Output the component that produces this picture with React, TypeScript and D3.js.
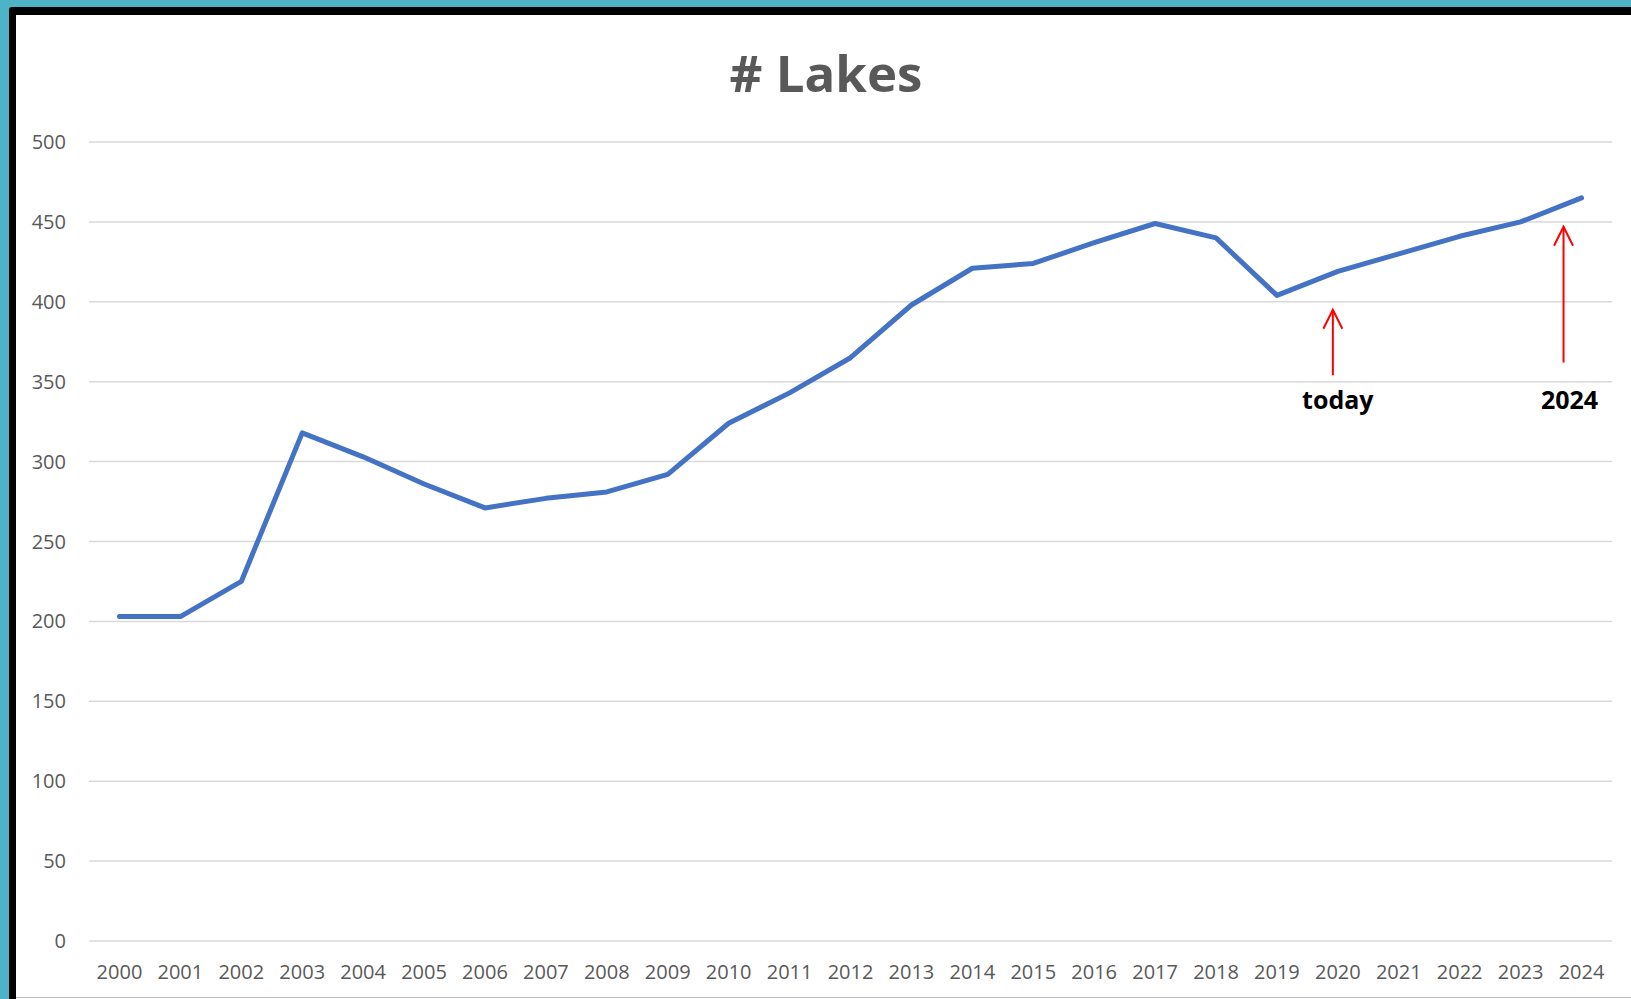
import React from "react";
import * as d3 from "d3";

const years = [
  "2000", "2001", "2002", "2003", "2004", "2005", "2006", "2007", "2008",
  "2009", "2010", "2011", "2012", "2013", "2014", "2015", "2016", "2017",
  "2018", "2019", "2020", "2021", "2022", "2023", "2024",
];
const lakes = [
  203, 203, 225, 318, 303, 286, 271, 277, 281, 292, 324, 343, 365, 398, 421,
  424, 437, 449, 440, 404, 419, 430, 441, 450, 465,
];
const yTicks = [0, 50, 100, 150, 200, 250, 300, 350, 400, 450, 500];
// arrow tip / tail given in axis units, x offset from the year's centre
const notes = [
  { year: "2020", top: 395, bottom: 354, dx: -5, textDx: 0, label: "today" },
  { year: "2024", top: 447, bottom: 362, dx: -18, textDx: -12, label: "2024" },
];

const W = 1631;
const H = 999;
const margin = { top: 142, right: 19, bottom: 58, left: 89 };
const FONT = "'Open Sans', 'Liberation Sans', sans-serif";

export default function App() {
  const x = d3
    .scaleBand()
    .domain(years)
    .range([margin.left, W - margin.right]);
  const y = d3
    .scaleLinear()
    .domain([0, 500])
    .range([H - margin.bottom, margin.top]);
  const cx = (d: string) => (x(d) ?? 0) + x.bandwidth() / 2;

  const line = d3
    .line<number>()
    .x((_, i) => cx(years[i]))
    .y((d) => y(d));

  return (
    <svg
      width={W}
      height={H}
      style={{ position: "fixed", left: 0, top: 0 }}
      fontFamily={FONT}
    >
      {/* frame */}
      <rect width={W} height={H} fill="#4FB3C8" />
      <rect x={9} y={7} width={W} height={H} rx={3} fill="#000" />
      <rect x={16} y={15} width={W} height={H} fill="#fff" />
      <line x1={16} x2={W} y1={997.5} y2={997.5} stroke="#bfbfbf" />

      {/* title */}
      <text
        x={826}
        y={92}
        textAnchor="middle"
        fontSize={51}
        fontWeight="bold"
        fill="#595959"
      >
        # Lakes
      </text>

      {/* gridlines + y labels */}
      {yTicks.map((t) => (
        <g key={t}>
          <line
            x1={margin.left}
            x2={W - margin.right}
            y1={y(t)}
            y2={y(t)}
            stroke="#d9d9d9"
            strokeWidth={1.5}
          />
          <text
            x={66}
            y={y(t) + 7}
            textAnchor="end"
            fontSize={20}
            fill="#595959"
          >
            {t}
          </text>
        </g>
      ))}

      {/* x labels */}
      {years.map((yr) => (
        <text
          key={yr}
          x={cx(yr)}
          y={979}
          textAnchor="middle"
          fontSize={20}
          fill="#595959"
        >
          {yr}
        </text>
      ))}

      {/* series */}
      <path
        d={line(lakes) ?? ""}
        fill="none"
        stroke="#4472C4"
        strokeWidth={5}
        strokeLinejoin="round"
        strokeLinecap="round"
      />

      {/* annotations */}
      {notes.map((n) => {
        const ax = cx(n.year) + n.dx;
        const yt = y(n.top);
        const yb = y(n.bottom);
        return (
          <g key={n.label}>
            <line x1={ax} x2={ax} y1={yt} y2={yb} stroke="#ff0000" strokeWidth={2} />
            <polyline
              points={`${ax - 9.5},${yt + 19} ${ax},${yt} ${ax + 9.5},${yt + 19}`}
              fill="none"
              stroke="#ff0000"
              strokeWidth={2}
            />
            <text
              x={cx(n.year) + n.textDx}
              y={409}
              textAnchor="middle"
              fontSize={25}
              fontWeight="bold"
              fill="#000"
            >
              {n.label}
            </text>
          </g>
        );
      })}
    </svg>
  );
}
